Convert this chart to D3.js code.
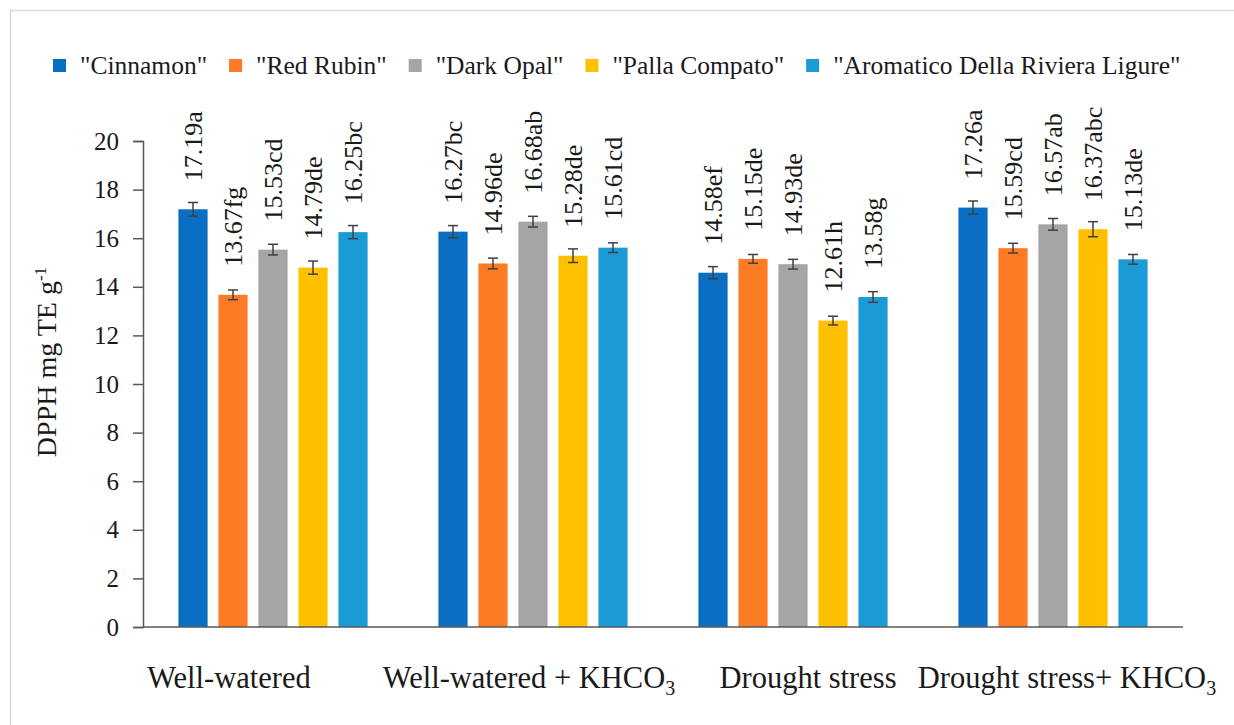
<!DOCTYPE html>
<html lang="en">
	<head>
		<meta charset="utf-8">
		<title>DPPH bar chart</title>
		<script src="https://d3js.org/d3.v7.min.js"></script>
		<style type="text/css">
			body {
				margin: 0;
				background: #ffffff;
			}
			svg text {
				font-family: 'Liberation Serif', 'Times New Roman', serif;
				fill: #1a1a1a;
			}
		</style>
	</head>
	<body>
		<script type="text/javascript">

			//Width and height
			var w = 1234;
			var h = 725;

			//chart data
			var groups = ["Well-watered", "Well-watered + KHCO3", "Drought stress", "Drought stress+ KHCO3"];
			var cultivars = ["\"Cinnamon\"", "\"Red Rubin\"", "\"Dark Opal\"", "\"Palla Compato\"", "\"Aromatico Della Riviera Ligure\""];
			var colors = ["#0a6fc2", "#fd7b24", "#a5a5a5", "#ffc000", "#1b9bd6"];

			//one row per group, one value per cultivar
			var values = [
				[17.19, 13.67, 15.53, 14.79, 16.25],
				[16.27, 14.96, 16.68, 15.28, 15.61],
				[14.58, 15.15, 14.93, 12.61, 13.58],
				[17.26, 15.59, 16.57, 16.37, 15.13]
			];
			var errors = [
				[0.28, 0.20, 0.22, 0.27, 0.27],
				[0.25, 0.22, 0.22, 0.28, 0.20],
				[0.25, 0.18, 0.20, 0.18, 0.22],
				[0.27, 0.20, 0.24, 0.31, 0.20]
			];
			var letters = [
				["a", "fg", "cd", "de", "bc"],
				["bc", "de", "ab", "de", "cd"],
				["ef", "de", "de", "h", "g"],
				["a", "cd", "ab", "abc", "de"]
			];
			var yTicks = [0, 2, 4, 6, 8, 10, 12, 14, 16, 18, 20];

			var serif = "'Liberation Serif', 'Times New Roman', serif";
			var plotL = 143, plotR = 1183, plotT = 141, plotB = 627;

			var svg = d3.select("body")
						.append("svg")
						.attr("width", w)
						.attr("height", h);

			//light frame round the chart area
			svg.append("rect")
				.attr("x", 10.5)
				.attr("y", 10.5)
				.attr("width", w + 20)
				.attr("height", h + 20)
				.attr("fill", "none")
				.attr("stroke", "#d9d9d9")
				.attr("stroke-width", 1.5);

			var x0 = d3.scaleBand()
						.domain(d3.range(groups.length))
						.range([plotL, plotR]);

			var x1 = d3.scaleBand()
						.domain(d3.range(cultivars.length))
						.range([0, x0.bandwidth()])
						.paddingInner(0.27)
						.paddingOuter(0.885);

			var yScale = d3.scaleLinear()
							.domain([0, 20])
							.range([plotB, plotT]);

			//y axis
			var yAxis = d3.axisLeft(yScale)
							.tickValues(yTicks)
							.tickSize(10)
							.tickPadding(14);

			var ya = svg.append("g")
				.attr("transform", "translate(" + plotL + ",0)")
				.call(yAxis);
			ya.select(".domain").attr("stroke", "#595959").attr("stroke-width", 1.5);
			ya.selectAll(".tick line").attr("stroke", "#595959").attr("stroke-width", 1.5);
			ya.selectAll(".tick text")
				.attr("font-family", serif)
				.attr("font-size", 25)
				.attr("fill", "#1a1a1a");

			//y title
			var yt = svg.append("text")
				.attr("transform", "translate(56," + ((plotT + plotB) / 2 - 22) + ") rotate(-90)")
				.attr("text-anchor", "middle")
				.attr("font-family", serif)
				.attr("font-size", 28);
			yt.append("tspan").text("DPPH mg TE g");
			yt.append("tspan").attr("dy", -10).attr("font-size", 17).text("-1");

			//bars
			var g = svg.selectAll("g.grp")
				.data(values)
				.enter()
				.append("g")
				.attr("class", "grp")
				.attr("transform", function(d, i) { return "translate(" + x0(i) + ",0)"; });

			g.selectAll("rect")
				.data(function(d) { return d; })
				.enter()
				.append("rect")
				.attr("x", function(d, j) { return x1(j); })
				.attr("y", function(d) { return yScale(d); })
				.attr("width", x1.bandwidth())
				.attr("height", function(d) { return plotB - yScale(d); })
				.attr("fill", function(d, j) { return colors[j]; });

			//error bars
			g.each(function(row, i) {
				var eg = d3.select(this);
				row.forEach(function(v, j) {
					var cx = x1(j) + x1.bandwidth() / 2;
					var e = errors[i][j];
					var hi = yScale(v + e), lo = yScale(v - e);
					eg.append("line").attr("x1", cx).attr("x2", cx).attr("y1", hi).attr("y2", lo);
					eg.append("line").attr("x1", cx - 5).attr("x2", cx + 5).attr("y1", hi).attr("y2", hi);
					eg.append("line").attr("x1", cx - 5).attr("x2", cx + 5).attr("y1", lo).attr("y2", lo);
				});
				eg.selectAll("line")
					.attr("stroke", "#404040")
					.attr("stroke-width", 1.5);

				//value labels, rotated
				eg.selectAll("text.val")
					.data(row)
					.enter()
					.append("text")
					.attr("class", "val")
					.attr("transform", function(d, j) {
						var cx = x1(j) + x1.bandwidth() / 2;
						return "translate(" + cx + "," + (yScale(d) - 28) + ") rotate(-90)";
					})
					.attr("dy", "0.35em")
					.attr("font-family", serif)
					.attr("font-size", 26)
					.text(function(d, j) { return d.toFixed(2) + letters[i][j]; });
			});

			//x axis line
			svg.append("line")
				.attr("x1", plotL)
				.attr("x2", plotR)
				.attr("y1", plotB)
				.attr("y2", plotB)
				.attr("stroke", "#595959")
				.attr("stroke-width", 1.5);

			//category labels, KHCO3 gets a subscript 3
			var catShift = [-44, -4, 15, 14];
			groups.forEach(function(name, i) {
				var t = svg.append("text")
					.attr("x", x0(i) + x0.bandwidth() / 2 + catShift[i])
					.attr("y", 688)
					.attr("text-anchor", "middle")
					.attr("font-family", serif)
					.attr("font-size", 30.5);
				if (name.indexOf("KHCO3") > -1) {
					t.append("tspan").text(name.replace("KHCO3", "KHCO"));
					t.append("tspan").attr("dy", 7).attr("font-size", 20).text("3");
				} else {
					t.text(name);
				}
			});

			//legend, laid out left to right
			var lx = 53;
			cultivars.forEach(function(name, j) {
				svg.append("rect")
					.attr("x", lx)
					.attr("y", 59)
					.attr("width", 13)
					.attr("height", 13)
					.attr("fill", colors[j]);
				var t = svg.append("text")
					.attr("x", lx + 27)
					.attr("y", 74)
					.attr("font-family", serif)
					.attr("font-size", 25.5)
					.text(name);
				lx = lx + 27 + t.node().getComputedTextLength() + 22;
			});
		</script>
	</body>
</html>
